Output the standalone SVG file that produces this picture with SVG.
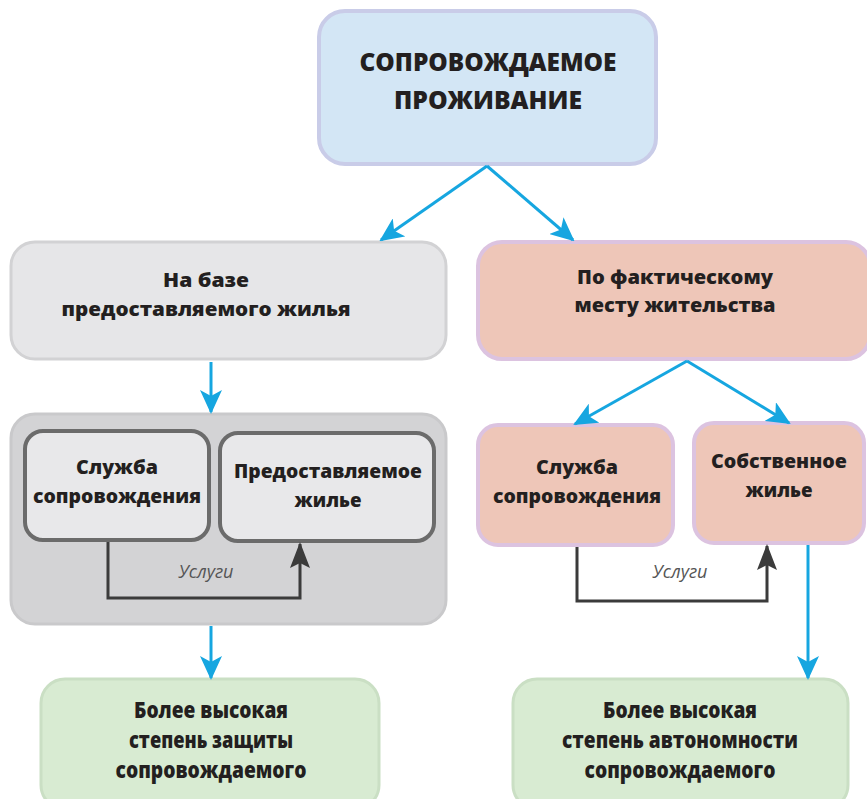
<svg xmlns="http://www.w3.org/2000/svg" width="867" height="799" viewBox="0 0 867 799">
<defs>
<marker id="blue" viewBox="0 0 24 22" refX="22" refY="11" markerWidth="24" markerHeight="22" markerUnits="userSpaceOnUse" orient="auto">
<path d="M0,0 L24,11 L0,22 L6,11 z" fill="#16a6e0"/>
</marker>
<marker id="dark" viewBox="0 0 26 20" refX="24" refY="10" markerWidth="26" markerHeight="20" markerUnits="userSpaceOnUse" orient="auto">
<path d="M0,0 L26,10 L0,20 L5,10 z" fill="#3b3b3b"/>
</marker>
</defs>
<style>
.t{font-family:"Open Sans","Noto Sans","DejaVu Sans",sans-serif;font-weight:800;fill:#231f20;text-anchor:middle}
.m{font-size:20px}
.c{font-size:22px}
.u{font-family:"Open Sans","Noto Sans",sans-serif;font-style:italic;font-size:18px;fill:#555;text-anchor:middle}
.blue{fill:none;stroke:#16a6e0;stroke-width:3}
.svc{fill:none;stroke:#3b3b3b;stroke-width:3}
</style>
<rect width="867" height="799" fill="#ffffff"/>

<g id="top">
<rect x="319" y="11" width="337" height="153" rx="26" fill="#d3e6f5" stroke="#c9cce8" stroke-width="4"/>
<text class="t" x="488" y="71" font-size="24" textLength="257" lengthAdjust="spacingAndGlyphs">СОПРОВОЖДАЕМОЕ</text>
<text class="t" x="488" y="109" font-size="24" textLength="188" lengthAdjust="spacingAndGlyphs">ПРОЖИВАНИЕ</text>
</g>

<g id="left-basis">
<rect x="11" y="242" width="435" height="117" rx="24" fill="#e6e6e8" stroke="#d2d2d4" stroke-width="3"/>
<text class="t m" x="206" y="287" textLength="86" lengthAdjust="spacingAndGlyphs">На базе</text>
<text class="t m" x="206" y="316" textLength="289" lengthAdjust="spacingAndGlyphs">предоставляемого жилья</text>
</g>

<g id="right-basis">
<rect x="478" y="242" width="392" height="117" rx="24" fill="#eec6b8" stroke="#dcc3e0" stroke-width="4"/>
<text class="t m" x="675" y="284" textLength="196" lengthAdjust="spacingAndGlyphs">По фактическому</text>
<text class="t m" x="675" y="312" textLength="201" lengthAdjust="spacingAndGlyphs">месту жительства</text>
</g>

<g id="left-container">
<rect x="11" y="414" width="435" height="210" rx="24" fill="#d3d3d5" stroke="#c9c9cb" stroke-width="3"/>
</g>

<g id="left-service">
<rect x="25" y="431" width="184" height="109" rx="18" fill="#e8e8ea" stroke="#6b6b6b" stroke-width="4"/>
<text class="t m" x="117" y="474" textLength="82" lengthAdjust="spacingAndGlyphs">Служба</text>
<text class="t m" x="117" y="503" textLength="168" lengthAdjust="spacingAndGlyphs">сопровождения</text>
</g>

<g id="left-housing">
<rect x="220" y="433" width="214" height="108" rx="18" fill="#e8e8ea" stroke="#6b6b6b" stroke-width="4"/>
<text class="t m" x="328" y="478" textLength="188" lengthAdjust="spacingAndGlyphs">Предоставляемое</text>
<text class="t m" x="328" y="507" textLength="67" lengthAdjust="spacingAndGlyphs">жилье</text>
</g>

<g id="right-service">
<rect x="478" y="425" width="195" height="120" rx="20" fill="#eec6b8" stroke="#dcc3e0" stroke-width="4"/>
<text class="t m" x="577" y="474" textLength="82" lengthAdjust="spacingAndGlyphs">Служба</text>
<text class="t m" x="577" y="503" textLength="168" lengthAdjust="spacingAndGlyphs">сопровождения</text>
</g>

<g id="right-own">
<rect x="694" y="423" width="170" height="120" rx="20" fill="#eec6b8" stroke="#dcc3e0" stroke-width="4"/>
<text class="t m" x="779" y="468" textLength="136" lengthAdjust="spacingAndGlyphs">Собственное</text>
<text class="t m" x="779" y="497" textLength="67" lengthAdjust="spacingAndGlyphs">жилье</text>
</g>

<g id="left-result">
<rect x="41" y="679" width="338" height="130" rx="24" fill="#d8ebd2" stroke="#cadfc4" stroke-width="3"/>
<text class="t c" x="211" y="718" textLength="154" lengthAdjust="spacingAndGlyphs">Более высокая</text>
<text class="t c" x="211" y="748" textLength="164" lengthAdjust="spacingAndGlyphs">степень защиты</text>
<text class="t c" x="211" y="778" textLength="191" lengthAdjust="spacingAndGlyphs">сопровождаемого</text>
</g>

<g id="right-result">
<rect x="513" y="679" width="335" height="130" rx="24" fill="#d8ebd2" stroke="#cadfc4" stroke-width="3"/>
<text class="t c" x="680" y="718" textLength="154" lengthAdjust="spacingAndGlyphs">Более высокая</text>
<text class="t c" x="680" y="748" textLength="236" lengthAdjust="spacingAndGlyphs">степень автономности</text>
<text class="t c" x="680" y="778" textLength="191" lengthAdjust="spacingAndGlyphs">сопровождаемого</text>
</g>

<g id="connectors">
<path class="blue" d="M487,166 L381,240" marker-end="url(#blue)"/>
<path class="blue" d="M487,166 L573,240" marker-end="url(#blue)"/>
<path class="blue" d="M211,362 L211,412" marker-end="url(#blue)"/>
<path class="blue" d="M211,626 L211,678" marker-end="url(#blue)"/>
<path class="blue" d="M687,361 L575,424" marker-end="url(#blue)"/>
<path class="blue" d="M687,361 L789,423" marker-end="url(#blue)"/>
<path class="blue" d="M808,545 L808,678" marker-end="url(#blue)"/>
<path class="svc" d="M108,542 L108,598 L300,598 L300,544" marker-end="url(#dark)"/>
<path class="svc" d="M577,547 L577,601 L767,601 L767,546" marker-end="url(#dark)"/>
<text class="u" x="206" y="578">Услуги</text>
<text class="u" x="680" y="578">Услуги</text>
</g>
</svg>
